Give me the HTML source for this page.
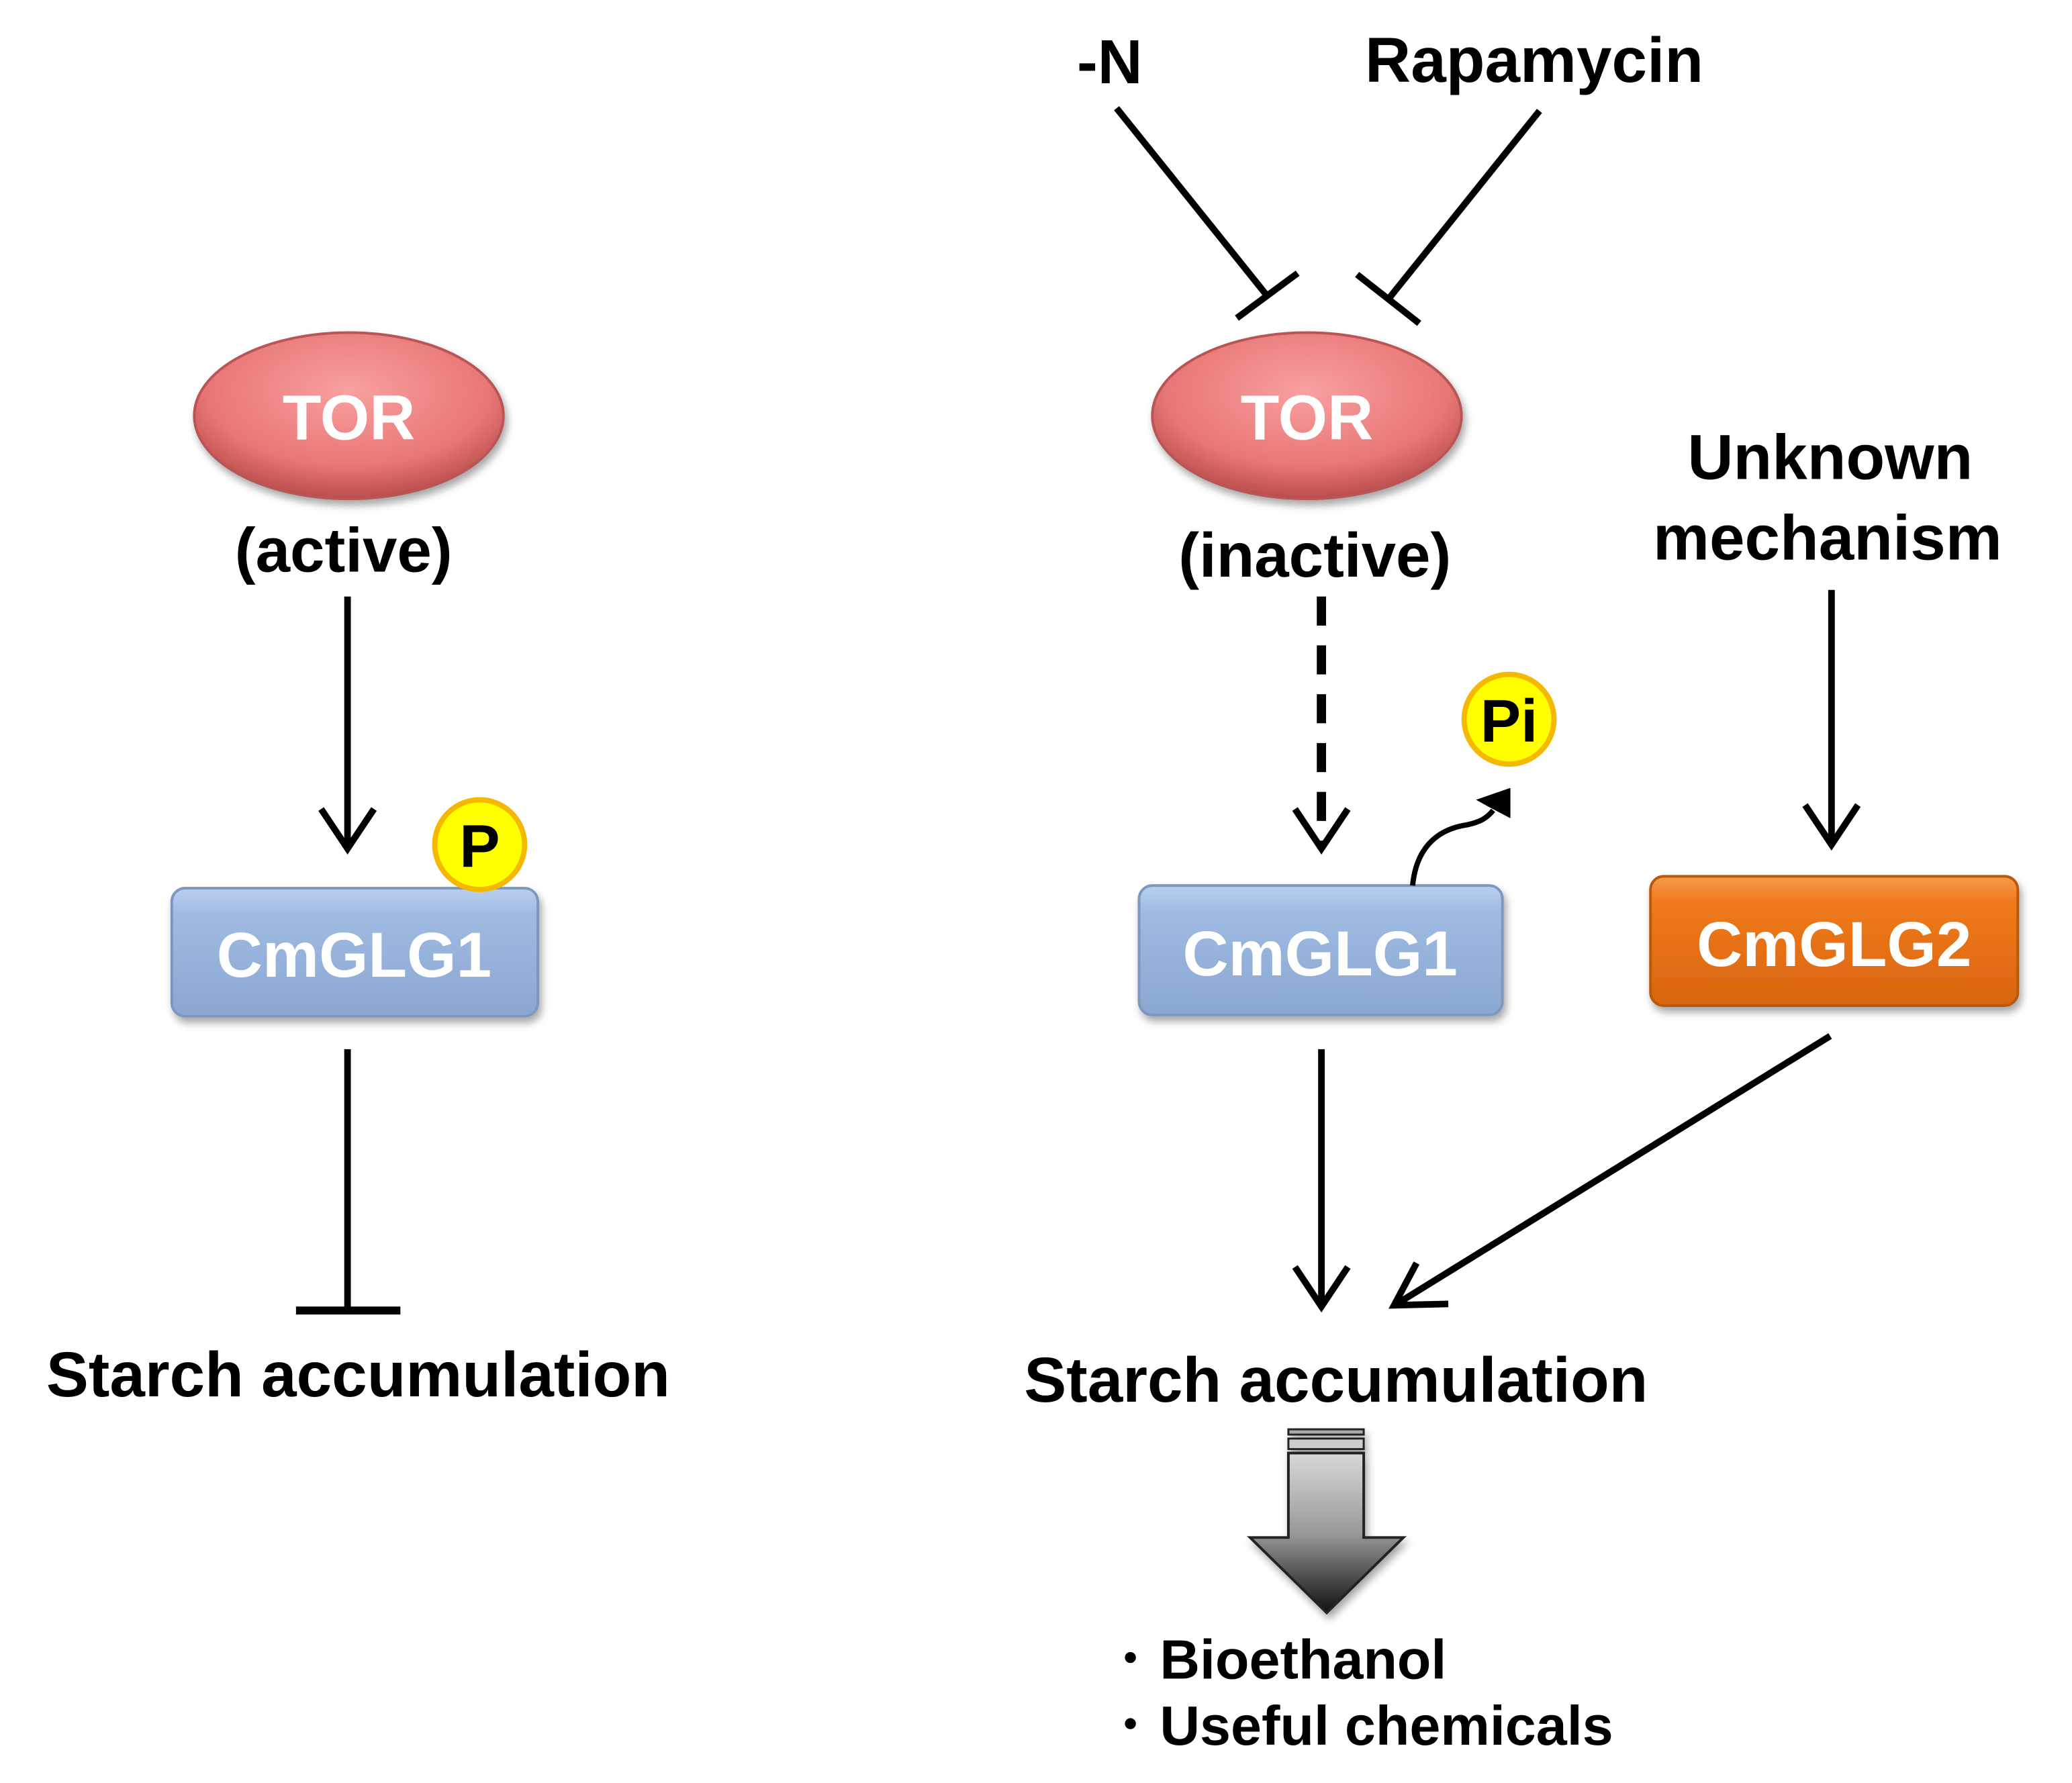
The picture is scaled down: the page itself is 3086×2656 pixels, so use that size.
<!DOCTYPE html>
<html><head><meta charset="utf-8"><style>
html,body{margin:0;padding:0;background:#fff;}
svg{display:block;}
text{font-family:"Liberation Sans",Arial,sans-serif;font-weight:bold;}
</style></head><body>
<svg width="3086" height="2656" viewBox="0 0 1568 1351" preserveAspectRatio="none" xmlns="http://www.w3.org/2000/svg">
<defs>
<radialGradient id="red" cx="50%" cy="35%" r="65%">
<stop offset="0" stop-color="#f9a0a0"/><stop offset="0.7" stop-color="#e87676"/><stop offset="1" stop-color="#b94c4c"/>
</radialGradient>
<linearGradient id="blue" x1="0" y1="0" x2="0" y2="1">
<stop offset="0" stop-color="#b8d0ef"/><stop offset="0.2" stop-color="#9fbbe2"/><stop offset="1" stop-color="#8aa7d1"/>
</linearGradient>
<linearGradient id="orange" x1="0" y1="0" x2="0" y2="1">
<stop offset="0" stop-color="#f79a4a"/><stop offset="0.2" stop-color="#ef7a1c"/><stop offset="1" stop-color="#d9650e"/>
</linearGradient>
<linearGradient id="gray" x1="0" y1="0" x2="0" y2="1">
<stop offset="0" stop-color="#d8d8d8"/><stop offset="0.5" stop-color="#999"/><stop offset="1" stop-color="#111"/>
</linearGradient>
<filter id="sh" x="-20%" y="-20%" width="140%" height="150%"><feDropShadow dx="2" dy="4" stdDeviation="3" flood-opacity="0.35"/></filter>
</defs>

<!-- LEFT -->
<ellipse cx="264" cy="315" rx="117" ry="63" fill="url(#red)" stroke="#b85555" stroke-width="2" filter="url(#sh)"/>
<text x="264" y="333" text-anchor="middle" font-size="48" fill="#fff">TOR</text>
<text x="260" y="433" text-anchor="middle" font-size="47" fill="#000">(active)</text>
<line x1="263" y1="452" x2="263" y2="642" stroke="#000" stroke-width="5"/>
<polyline points="243,613 263,643 283,613" fill="none" stroke="#000" stroke-width="5"/>
<rect x="130" y="673" width="277" height="97" rx="10" fill="url(#blue)" stroke="#7d97bd" stroke-width="2" filter="url(#sh)"/>
<text x="268" y="740" text-anchor="middle" font-size="48" fill="#fff">CmGLG1</text>
<circle cx="363" cy="640" r="34" fill="#ffff00" stroke="#f5b800" stroke-width="4"/>
<text x="363" y="657" text-anchor="middle" font-size="46" fill="#000">P</text>
<line x1="263" y1="795" x2="263" y2="993" stroke="#000" stroke-width="5"/>
<line x1="224" y1="993" x2="303" y2="993" stroke="#000" stroke-width="6"/>
<text x="35" y="1058" font-size="48" fill="#000">Starch accumulation</text>

<!-- RIGHT -->
<text x="815" y="63" font-size="47" fill="#000">-N</text>
<text x="1033" y="62" font-size="48" fill="#000">Rapamycin</text>
<line x1="845" y1="82" x2="958" y2="223" stroke="#000" stroke-width="5"/>
<line x1="936" y1="241" x2="982" y2="207" stroke="#000" stroke-width="5"/>
<line x1="1165" y1="84" x2="1052" y2="225" stroke="#000" stroke-width="5"/>
<line x1="1027" y1="208" x2="1074" y2="245" stroke="#000" stroke-width="5"/>
<ellipse cx="989" cy="315" rx="117" ry="63" fill="url(#red)" stroke="#b85555" stroke-width="2" filter="url(#sh)"/>
<text x="989" y="333" text-anchor="middle" font-size="48" fill="#fff">TOR</text>
<text x="995" y="437" text-anchor="middle" font-size="47" fill="#000">(inactive)</text>
<line x1="1000" y1="452" x2="1000" y2="640" stroke="#000" stroke-width="7" stroke-dasharray="22,15"/>
<polyline points="980,613 1000,643 1020,613" fill="none" stroke="#000" stroke-width="5"/>
<rect x="862" y="671" width="275" height="98" rx="10" fill="url(#blue)" stroke="#7d97bd" stroke-width="2" filter="url(#sh)"/>
<text x="999" y="739" text-anchor="middle" font-size="48" fill="#fff">CmGLG1</text>
<path d="M1069,671 C1072,640 1090,628 1110,625 C1120,623 1125,620 1130,614" fill="none" stroke="#000" stroke-width="4"/>
<polygon points="1143,597 1143,620 1126,611 1117,606" fill="#000"/>
<circle cx="1142" cy="545" r="34" fill="#ffff00" stroke="#f5b800" stroke-width="4"/>
<text x="1142" y="562" text-anchor="middle" font-size="46" fill="#000">Pi</text>
<text x="1385" y="363" text-anchor="middle" font-size="48" fill="#000">Unknown</text>
<text x="1383" y="424" text-anchor="middle" font-size="48" fill="#000">mechanism</text>
<line x1="1386" y1="447" x2="1386" y2="640" stroke="#000" stroke-width="5"/>
<polyline points="1366,610 1386,640 1406,610" fill="none" stroke="#000" stroke-width="5"/>
<rect x="1249" y="664" width="278" height="98" rx="10" fill="url(#orange)" stroke="#b85a10" stroke-width="2" filter="url(#sh)"/>
<text x="1388" y="732" text-anchor="middle" font-size="48" fill="#fff">CmGLG2</text>
<line x1="1000" y1="795" x2="1000" y2="990" stroke="#000" stroke-width="5"/>
<polyline points="980,960 1000,990 1020,960" fill="none" stroke="#000" stroke-width="5"/>
<line x1="1385" y1="785" x2="1057" y2="988" stroke="#000" stroke-width="5"/>
<polyline points="1072,957 1055,989 1096,988" fill="none" stroke="#000" stroke-width="5"/>
<text x="775" y="1062" font-size="48" fill="#000">Starch accumulation</text>

<!-- big arrow -->
<g filter="url(#sh)">
<rect x="975" y="1083" width="57" height="4" fill="#aaa" stroke="#222" stroke-width="1.5"/>
<rect x="975" y="1090" width="57" height="8" fill="#ccc" stroke="#222" stroke-width="1.5"/>
<polygon points="975,1101 1032,1101 1032,1165 1062,1165 1004,1222 946,1165 975,1165" fill="url(#gray)" stroke="#222" stroke-width="2"/>
</g>
<text x="845" y="1272" font-size="42" fill="#000">･ Bioethanol</text>
<text x="845" y="1322" font-size="42" fill="#000">･ Useful chemicals</text>
</svg>
</body></html>
